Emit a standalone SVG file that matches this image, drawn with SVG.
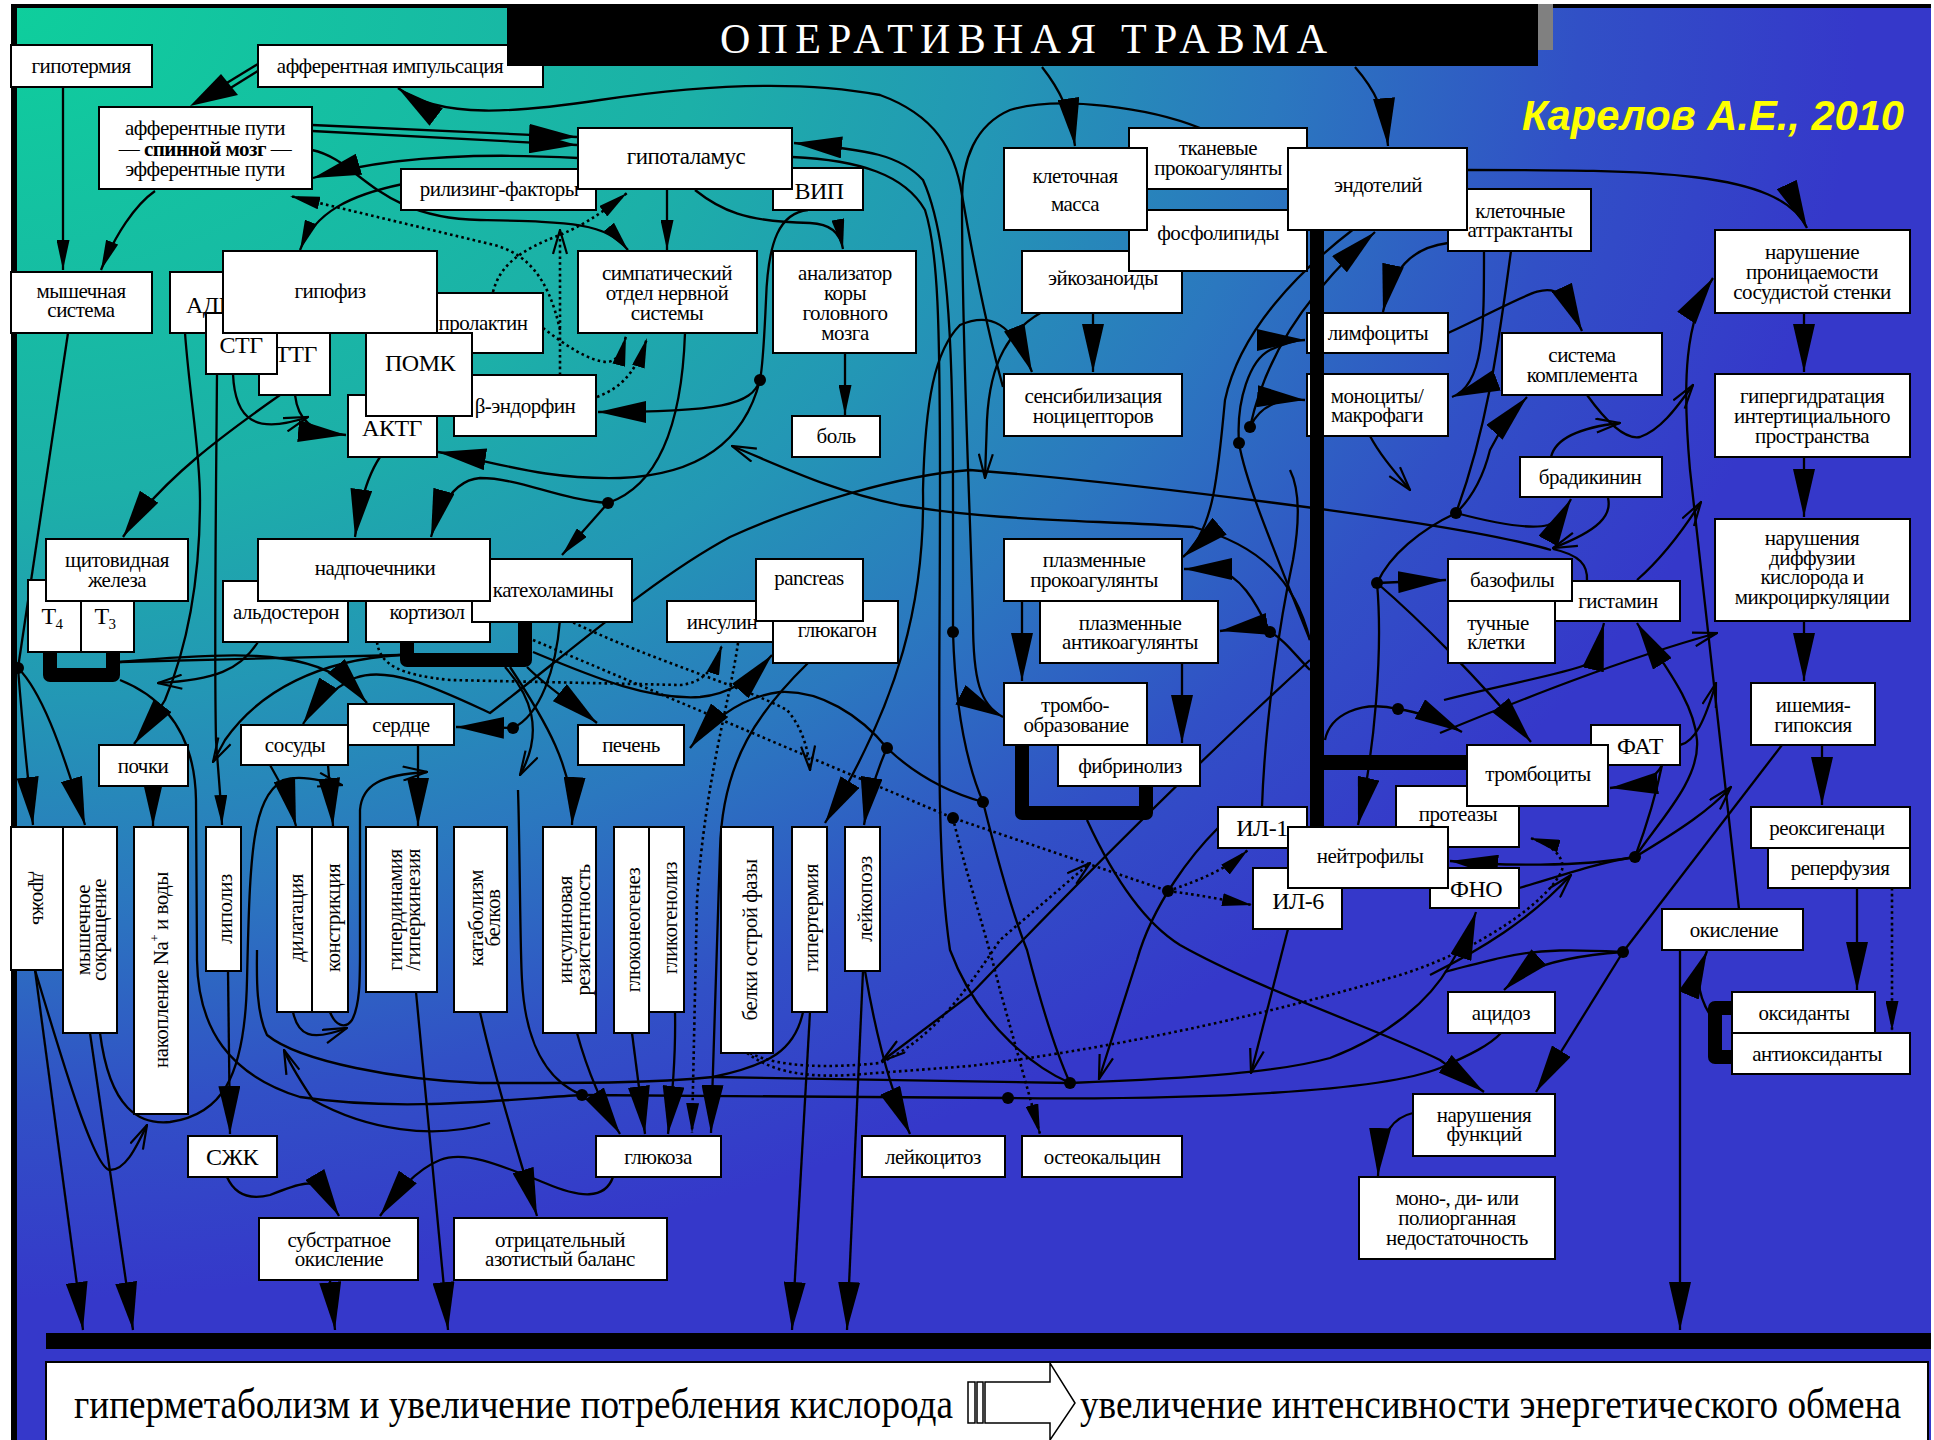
<svg xmlns="http://www.w3.org/2000/svg" width="1934" height="1440" viewBox="0 0 1934 1440">
<defs>
<radialGradient id="bg" gradientUnits="userSpaceOnUse" cx="0" cy="0" r="1300" gradientTransform="scale(1.43,1)">
<stop offset="0" stop-color="#0ECF9C"/>
<stop offset="0.38" stop-color="#1CB0A8"/>
<stop offset="0.54" stop-color="#2397B5"/>
<stop offset="0.69" stop-color="#2B78BF"/>
<stop offset="0.85" stop-color="#3150C6"/>
<stop offset="1" stop-color="#3538CA"/>
</radialGradient>
<marker id="a" viewBox="0 0 26 11" refX="26" refY="5.5" markerWidth="26" markerHeight="11" markerUnits="userSpaceOnUse" orient="auto"><path d="M0,0 L26,5.5 L0,11 z"/></marker>
<marker id="b" viewBox="0 0 30 13" refX="30" refY="6.5" markerWidth="30" markerHeight="13" markerUnits="userSpaceOnUse" orient="auto"><path d="M0,0 L30,6.5 L0,13 z"/></marker>
<marker id="B" viewBox="0 0 48 22" refX="48" refY="11" markerWidth="48" markerHeight="22" markerUnits="userSpaceOnUse" orient="auto"><path d="M0,0 L48,11 L0,22 z"/></marker>
<marker id="o" viewBox="0 0 26 16" refX="25" refY="8" markerWidth="26" markerHeight="16" markerUnits="userSpaceOnUse" orient="auto"><path d="M1,1 L25,8 L1,15" fill="none" stroke="#000" stroke-width="2.2"/></marker>
<style>
.c{fill:none;stroke:#000;stroke-width:2.3}
.d{fill:none;stroke:#000;stroke-width:2.6;stroke-dasharray:2.6 3.2}
.br{fill:none;stroke:#000;stroke-width:14;stroke-linejoin:round;stroke-linecap:butt}
.n rect{fill:#fff;stroke:#000;stroke-width:2}
.t{font-family:"Liberation Serif","Times New Roman",serif;font-size:21px;text-anchor:middle;letter-spacing:-0.5px;fill:#000}
.tb{font-family:"Liberation Serif","Times New Roman",serif;font-size:24px;text-anchor:middle;letter-spacing:-0.5px;fill:#000}
.dot{fill:#000}
</style>
</defs>

<rect x="0" y="0" width="1934" height="1440" fill="#fff"/>
<rect x="17" y="8" width="1914" height="1432" fill="url(#bg)"/>
<rect x="11" y="4" width="6" height="1436" fill="#000"/>
<rect x="11" y="4" width="1920" height="4" fill="#000"/>

<g id="connectors">
<path class="c" d="M63,87 V270" marker-end="url(#b)"/>
<path class="c" d="M258,64 L212,92"/>
<path class="c" d="M261,69 L216,97"/>
<polygon points="190,106 221,74 238,95" fill="#000"/>
<path class="c" d="M155,191 C135,205 115,235 101,270" marker-end="url(#b)"/>
<path class="c" d="M312,125 L577,137" marker-end="url(#B)"/>
<path class="c" d="M312,131 L577,145" marker-end="url(#B)"/>
<path class="c" d="M578,158 C470,152 380,158 313,178" marker-end="url(#B)"/>
<path class="c" d="M312,150 C360,160 375,218 480,220 C570,222 605,222 628,250" marker-end="url(#b)"/>
<path class="c" d="M403,184 C350,195 315,212 300,250" marker-end="url(#b)"/>
<path class="d" d="M560,330 C548,275 525,252 490,244 L290,196" marker-end="url(#b)"/>
<path class="d" d="M543,328 C565,345 590,362 608,362 C618,360 622,352 626,336" marker-end="url(#b)"/>
<path class="d" d="M560,375 V230" marker-end="url(#o)"/>
<path class="d" d="M493,292 C500,265 520,250 560,235 C590,222 605,210 627,193" marker-end="url(#b)"/>
<path class="d" d="M597,397 C615,390 635,378 647,338" marker-end="url(#b)"/>
<path class="c" d="M667,189 V250" marker-end="url(#b)"/>
<path class="c" d="M695,190 C720,210 745,222 810,223 C830,224 840,232 843,249" marker-end="url(#b)"/>
<path class="c" d="M845,353 V415" marker-end="url(#b)"/>
<path class="c" d="M808,210 C780,213 768,240 766,300 C764,345 763,365 760,380"/>
<path class="c" d="M760,380 C752,405 720,412 598,412" marker-end="url(#B)"/>
<path class="c" d="M760,380 C745,440 700,475 620,478 C540,480 490,460 438,452" marker-end="url(#B)"/>
<path class="c" d="M685,333 C682,420 660,485 608,503"/>
<path class="c" d="M608,503 L562,555" marker-end="url(#b)"/>
<path class="c" d="M608,503 C560,500 520,478 480,478 C455,480 440,505 431,537" marker-end="url(#B)"/>
<path class="c" d="M380,457 C368,475 360,500 355,537" marker-end="url(#B)"/>
<path class="c" d="M185,333 C190,400 200,450 200,500 C200,570 190,640 165,700 C152,722 140,736 134,744" marker-end="url(#B)"/>
<path class="c" d="M217,374 C216,500 214,650 216,740 C218,770 221,800 222,825" marker-end="url(#b)"/>
<path class="c" d="M233,374 C235,420 255,435 308,417" marker-end="url(#o)"/>
<path class="c" d="M295,395 C298,420 310,432 346,435" marker-end="url(#B)"/>
<path class="c" d="M280,395 C230,430 160,480 123,537" marker-end="url(#B)"/>
<path class="c" d="M68,333 L18,668"/>
<path class="c" d="M18,668 C22,720 28,780 33,825" marker-end="url(#B)"/>
<path class="c" d="M18,668 C40,690 60,740 85,825" marker-end="url(#B)"/>
<path class="c" d="M120,662 L400,655"/>
<path class="c" d="M120,662 C230,652 300,650 343,680 C355,690 362,697 367,703" marker-end="url(#B)"/>
<path class="c" d="M120,680 C170,700 195,740 196,800 L197,960 C198,1030 230,1075 300,1097 C400,1112 500,1100 582,1095 L1008,1098 C1200,1100 1380,1092 1440,1068 C1470,1055 1490,1045 1501,1033"/>
<path class="c" d="M400,655 C320,660 260,690 225,740 L213,762" marker-end="url(#o)"/>
<path class="c" d="M258,642 C240,670 215,680 158,683" marker-end="url(#o)"/>
<path class="c" d="M1551,550 C1450,520 1100,480 970,470 C900,475 800,505 730,537 C650,580 560,660 490,713 C440,690 390,665 355,678 C330,690 315,705 303,724" marker-end="url(#B)"/>
<path class="c" d="M418,745 V826" marker-end="url(#B)"/>
<path class="c" d="M270,765 C285,790 292,810 296,826" marker-end="url(#B)"/>
<path class="c" d="M328,765 L333,826" marker-end="url(#B)"/>
<path class="c" d="M153,786 V826" marker-end="url(#B)"/>
<path class="c" d="M100,1033 C110,1110 140,1125 170,1122 C220,1115 245,1080 247,980 C250,850 252,800 283,780 C300,775 320,780 342,785" marker-end="url(#o)"/>
<path class="c" d="M330,1012 C335,1025 345,1030 352,1020 C360,1005 360,980 360,950 L360,810 C362,785 380,775 427,772" marker-end="url(#o)"/>
<path class="c" d="M293,1012 C298,1035 310,1042 347,1028" marker-end="url(#o)"/>
<path class="c" d="M490,1123 C433,1140 367,1130 313,1100 C300,1080 290,1065 284,1050" marker-end="url(#o)"/>
<path class="c" d="M35,970 L83,1330" marker-end="url(#B)"/>
<path class="c" d="M90,1033 L133,1330" marker-end="url(#B)"/>
<path class="c" d="M35,970 C65,1070 95,1170 110,1170 C125,1170 135,1150 147,1125" marker-end="url(#o)"/>
<path class="c" d="M228,971 L230,1134" marker-end="url(#B)"/>
<path class="c" d="M227,1177 C235,1195 250,1200 270,1195 C300,1183 315,1178 325,1192 L339,1216" marker-end="url(#B)"/>
<path class="c" d="M613,1177 C605,1200 580,1198 545,1183 C500,1165 465,1150 440,1160 C415,1170 395,1195 380,1216" marker-end="url(#B)"/>
<path class="c" d="M330,1280 L335,1330" marker-end="url(#B)"/>
<path class="c" d="M416,992 L448,1330" marker-end="url(#B)"/>
<path class="c" d="M480,1012 C495,1080 520,1160 537,1216" marker-end="url(#B)"/>
<path class="c" d="M577,1033 C590,1080 605,1110 620,1134" marker-end="url(#B)"/>
<path class="c" d="M632,1033 L645,1134" marker-end="url(#B)"/>
<path class="c" d="M675,1012 C676,1060 672,1100 668,1134" marker-end="url(#B)"/>
<path class="d" d="M738,643 C730,700 705,780 697,900 L692,1133" marker-end="url(#b)"/>
<path class="c" d="M808,663 C760,710 722,760 720,850 L711,1133" marker-end="url(#B)"/>
<path class="c" d="M810,1012 L792,1330" marker-end="url(#B)"/>
<path class="c" d="M863,971 L847,1330" marker-end="url(#B)"/>
<path class="c" d="M865,971 C875,1030 890,1090 910,1134" marker-end="url(#B)"/>
<path class="c" d="M803,1012 C795,1050 770,1065 713,1077 C650,1083 600,1083 480,1083 C400,1080 300,1062 267,1035 C255,1010 257,970 257,950"/>
<path class="d" d="M747,1053 C770,1070 800,1078 850,1075 L970,1066 C1100,1050 1250,1020 1400,975 C1480,950 1550,900 1562,870 C1565,860 1555,845 1530,838" marker-end="url(#b)"/>
<path class="d" d="M750,1053 C780,1068 830,1068 880,1063 C930,1040 960,1000 1000,940 L1090,863" marker-end="url(#o)"/>
<path class="d" d="M533,640 L953,818 L1168,891"/>
<path class="d" d="M1168,891 C1200,880 1225,870 1248,850" marker-end="url(#b)"/>
<path class="d" d="M1168,891 C1200,895 1225,900 1252,905" marker-end="url(#b)"/>
<path class="d" d="M953,818 C965,870 985,930 1000,990 L1040,1134" marker-end="url(#b)"/>
<path class="d" d="M568,620 C650,660 740,685 787,710 C800,725 808,745 810,770" marker-end="url(#o)"/>
<path class="d" d="M377,642 C380,665 400,675 450,680 L680,685 C700,683 713,673 722,645" marker-end="url(#b)"/>
<path class="c" d="M533,652 C600,680 650,700 700,697 C730,694 750,680 772,655" marker-end="url(#B)"/>
<path class="c" d="M510,667 C545,720 575,770 572,825" marker-end="url(#B)"/>
<path class="c" d="M527,667 C550,690 575,705 597,723" marker-end="url(#B)"/>
<path class="c" d="M505,667 C530,695 545,730 520,775" marker-end="url(#o)"/>
<path class="c" d="M518,790 C520,850 520,950 522,980 C525,1040 545,1080 582,1095"/>
<path class="c" d="M560,620 C556,670 540,715 513,728"/>
<path class="c" d="M513,728 L456,727" marker-end="url(#B)"/>
<path class="c" d="M1310,640 C1295,580 1260,545 1193,527 C1100,520 1000,522 900,505 C830,490 790,470 732,446" marker-end="url(#o)"/>
<path class="c" d="M953,632 L953,490 C953,333 947,233 923,180 C900,155 870,150 794,143" marker-end="url(#B)"/>
<path class="c" d="M792,157 C860,160 905,175 925,210 C938,250 940,320 940,490 C940,700 935,850 950,950 C980,1030 1040,1070 1070,1083"/>
<path class="c" d="M983,802 C940,790 910,770 887,748 C860,715 820,690 780,692 C740,697 712,720 690,748" marker-end="url(#B)"/>
<path class="c" d="M887,748 C875,775 868,800 864,825" marker-end="url(#B)"/>
<path class="c" d="M953,632 C955,700 965,760 983,802"/>
<path class="c" d="M1200,128 C1150,108 1060,95 1010,110 C975,125 962,160 962,200 C962,350 970,500 973,620 C973,680 980,705 1003,717" marker-end="url(#B)"/>
<path class="c" d="M983,802 C1000,870 1015,920 1027,950 C1040,1000 1055,1050 1070,1083"/>
<path class="c" d="M713,1077 L1070,1083 C1200,1078 1280,1072 1330,1058 C1390,1035 1430,1000 1450,965 C1462,945 1470,930 1476,912" marker-end="url(#B)"/>
<path class="c" d="M1623,952 C1580,950 1540,948 1500,958 C1475,964 1458,968 1445,972"/>
<path class="c" d="M1218,828 C1193,853 1153,903 1137,960 L1099,1079" marker-end="url(#o)"/>
<path class="c" d="M1288,929 L1251,1073" marker-end="url(#o)"/>
<path class="c" d="M1087,820 C1110,870 1140,920 1180,945 C1260,990 1380,1030 1440,1060 L1484,1092" marker-end="url(#B)"/>
<path class="c" d="M1623,952 C1580,955 1545,962 1520,975 L1504,990" marker-end="url(#B)"/>
<path class="c" d="M1623,952 L1536,1092" marker-end="url(#B)"/>
<path class="c" d="M1782,745 L1623,952"/>
<path class="c" d="M1413,1113 C1395,1117 1380,1130 1378,1176" marker-end="url(#B)"/>
<path class="c" d="M1739,909 L1690,470 C1682,380 1685,320 1713,278" marker-end="url(#B)"/>
<path class="c" d="M1680,950 L1680,1330" marker-end="url(#B)"/>
<path class="c" d="M1710,1015 C1695,990 1697,975 1707,951" marker-end="url(#B)"/>
<path class="c" d="M1857,888 V990" marker-end="url(#B)"/>
<path class="d" d="M1892,888 V1031" marker-end="url(#b)"/>
<path class="c" d="M1804,313 V372" marker-end="url(#B)"/>
<path class="c" d="M1804,457 V517" marker-end="url(#B)"/>
<path class="c" d="M1804,621 V681" marker-end="url(#B)"/>
<path class="c" d="M1822,745 V805" marker-end="url(#B)"/>
<path class="c" d="M1467,170 C1650,170 1780,170 1807,228" marker-end="url(#B)"/>
<path class="c" d="M1042,67 C1060,90 1070,110 1075,146" marker-end="url(#B)"/>
<path class="c" d="M1355,67 C1375,90 1385,110 1388,146" marker-end="url(#B)"/>
<path class="c" d="M1093,312 V372" marker-end="url(#B)"/>
<path class="c" d="M1042,312 C1010,330 990,360 987,420 L985,478" marker-end="url(#o)"/>
<path class="c" d="M923,490 C925,600 900,700 825,823" marker-end="url(#B)"/>
<path class="c" d="M923,490 C925,400 935,350 960,325 C990,312 1012,322 1032,372" marker-end="url(#B)"/>
<path class="c" d="M1003,387 C990,340 975,270 962,195 C955,150 935,115 880,95 C800,80 700,85 600,100 C520,112 440,120 398,88" marker-end="url(#B)"/>
<path class="c" d="M1448,243 C1410,248 1392,270 1383,312" marker-end="url(#B)"/>
<path class="c" d="M1484,251 C1484,330 1484,385 1452,397" marker-end="url(#B)"/>
<path class="c" d="M1511,251 C1500,330 1490,420 1456,513"/>
<path class="c" d="M1456,513 C1490,522 1530,530 1548,525 C1560,520 1565,510 1571,499" marker-end="url(#B)"/>
<path class="c" d="M1456,513 C1475,495 1485,470 1490,450 C1500,430 1515,410 1527,397" marker-end="url(#B)"/>
<path class="c" d="M1456,513 C1420,530 1390,555 1377,583"/>
<path class="c" d="M1448,333 C1520,300 1545,280 1560,295 C1570,305 1576,318 1582,331" marker-end="url(#B)"/>
<path class="c" d="M1370,436 C1380,455 1395,472 1410,490" marker-end="url(#o)"/>
<path class="c" d="M1250,427 C1265,360 1300,300 1375,232" marker-end="url(#B)"/>
<path class="c" d="M1250,427 C1260,405 1280,398 1305,400" marker-end="url(#B)"/>
<path class="c" d="M1239,443 C1236,400 1250,360 1270,350 C1285,343 1295,340 1305,340" marker-end="url(#B)"/>
<path class="c" d="M1239,443 C1245,480 1270,540 1310,640"/>
<path class="c" d="M1355,228 C1300,270 1240,330 1225,400 C1218,470 1215,530 1183,557" marker-end="url(#B)"/>
<path class="c" d="M1587,395 C1605,420 1625,440 1640,437 C1660,430 1675,410 1693,385" marker-end="url(#o)"/>
<path class="c" d="M1551,457 C1555,440 1575,428 1620,423" marker-end="url(#o)"/>
<path class="c" d="M1608,498 C1612,515 1600,530 1553,548" marker-end="url(#o)"/>
<path class="c" d="M1587,581 C1588,565 1580,555 1553,549"/>
<path class="c" d="M1637,580 C1660,560 1680,535 1701,502" marker-end="url(#o)"/>
<path class="c" d="M1444,700 C1500,685 1560,675 1585,665 C1595,655 1600,640 1604,623" marker-end="url(#B)"/>
<path class="c" d="M1635,857 C1660,820 1700,780 1697,740 C1694,700 1660,660 1637,623" marker-end="url(#B)"/>
<path class="c" d="M1635,857 C1580,867 1500,866 1450,861" marker-end="url(#B)"/>
<path class="c" d="M1635,857 C1680,830 1710,810 1731,787" marker-end="url(#o)"/>
<path class="c" d="M1662,765 C1655,800 1645,830 1635,857"/>
<path class="c" d="M1662,765 C1655,780 1640,785 1610,788" marker-end="url(#B)"/>
<path class="c" d="M1680,745 C1695,742 1705,720 1716,683" marker-end="url(#o)"/>
<path class="c" d="M1440,733 C1520,700 1620,660 1717,633" marker-end="url(#o)"/>
<path class="c" d="M1377,583 L1446,580" marker-end="url(#B)"/>
<path class="c" d="M1377,583 C1383,650 1375,750 1358,825" marker-end="url(#B)"/>
<path class="c" d="M1377,583 C1420,620 1480,680 1531,742" marker-end="url(#B)"/>
<path class="c" d="M1325,740 C1330,715 1360,700 1398,709 C1420,712 1440,720 1462,732" marker-end="url(#B)"/>
<path class="c" d="M1519,888 C1560,876 1600,862 1635,857"/>
<path class="c" d="M1430,975 C1480,950 1530,920 1571,875" marker-end="url(#o)"/>
<path class="c" d="M1262,807 C1265,720 1280,620 1293,560 C1300,520 1300,490 1290,470"/>
<path class="c" d="M1310,660 C1200,760 1080,880 970,995 L882,1061" marker-end="url(#o)"/>
<path class="c" d="M1270,632 C1250,628 1240,628 1220,631" marker-end="url(#B)"/>
<path class="c" d="M1270,632 C1255,600 1240,575 1215,569 L1184,569" marker-end="url(#B)"/>
<path class="c" d="M1310,670 C1295,655 1285,640 1270,632"/>
<path class="c" d="M1022,601 V681" marker-end="url(#B)"/>
<path class="c" d="M1182,663 V743" marker-end="url(#B)"/>
<path class="br" d="M50,652 V675 H113 V652"/>
<path class="br" d="M407,642 V660 H525 V622"/>
<path class="br" d="M1022,745 V813 H1146 V786"/>
<path class="br" d="M1732,1008 H1715 V1057 H1732"/>
<g class="dot">
<circle cx="760" cy="380" r="6"/><circle cx="608" cy="503" r="6"/><circle cx="18" cy="668" r="6"/>
<circle cx="582" cy="1095" r="6"/><circle cx="1008" cy="1098" r="6"/><circle cx="513" cy="728" r="6"/>
<circle cx="953" cy="632" r="6"/><circle cx="953" cy="818" r="6"/><circle cx="1168" cy="891" r="6"/>
<circle cx="983" cy="802" r="6"/><circle cx="1070" cy="1083" r="6"/><circle cx="1623" cy="952" r="6"/>
<circle cx="1456" cy="513" r="6"/><circle cx="1377" cy="583" r="6"/><circle cx="1398" cy="709" r="6"/>
<circle cx="1635" cy="857" r="6"/><circle cx="1250" cy="427" r="6"/><circle cx="1239" cy="443" r="6"/>
<circle cx="1270" cy="632" r="6"/><circle cx="887" cy="748" r="6"/>
</g>
</g>

<g id="nodes">
<g id="n-gipotermiya" class="n"><rect x="11" y="45" width="141" height="42"/><text class="t" x="81" y="73">гипотермия</text></g>
<g id="n-afferent-imp" class="n"><rect x="258" y="45" width="285" height="42"/><text class="t" x="390" y="73">афферентная импульсация</text></g>
<g id="n-afferent-paths" class="n"><rect x="99" y="107" width="213" height="82"/><text class="t" x="205" y="135">афферентные пути</text><text class="t" x="205" y="156">— <tspan font-weight="bold">спинной мозг</tspan> —</text><text class="t" x="205" y="176">эфферентные пути</text></g>
<g id="n-rilizing" class="n"><rect x="401" y="169" width="195" height="41"/><text class="t" x="499" y="196">рилизинг-факторы</text></g>
<g id="n-vip" class="n"><rect x="773" y="168" width="90" height="42"/><text class="tb" x="819" y="199">ВИП</text></g>
<g id="n-gipotalamus" class="n"><rect x="578" y="128" width="214" height="61"/><text class="t" x="686" y="164" style="font-size:23px">гипоталамус</text></g>
<g id="n-myshechnaya" class="n"><rect x="11" y="272" width="141" height="61"/><text class="t" x="81" y="298">мышечная</text><text class="t" x="81" y="317">система</text></g>
<g id="n-adg" class="n"><rect x="170" y="272" width="60" height="61"/><text class="tb" x="186" y="313" style="text-anchor:start">АДГ</text></g>
<g id="n-ttg" class="n"><rect x="259" y="333" width="71" height="62"/><text class="tb" x="296" y="362">ТТГ</text></g>
<g id="n-stg" class="n"><rect x="206" y="313" width="71" height="61"/><text class="tb" x="241" y="353">СТГ</text></g>
<g id="n-aktg" class="n"><rect x="348" y="395" width="89" height="62"/><text class="tb" x="392" y="436">АКТГ</text></g>
<g id="n-bendorfin" class="n"><rect x="454" y="375" width="142" height="61"/><text class="t" x="525" y="413">β-эндорфин</text></g>
<g id="n-prolaktin" class="n"><rect x="418" y="293" width="125" height="60"/><text class="t" x="483" y="330">пролактин</text></g>
<g id="n-pomk" class="n"><rect x="366" y="333" width="106" height="83"/><text class="tb" x="420" y="371">ПОМК</text></g>
<g id="n-gipofiz" class="n"><rect x="223" y="251" width="214" height="82"/><text class="t" x="330" y="298">гипофиз</text></g>
<g id="n-simpat" class="n"><rect x="578" y="251" width="179" height="82"/><text class="t" x="667" y="280">симпатический</text><text class="t" x="667" y="300">отдел  нервной</text><text class="t" x="667" y="320">системы</text></g>
<g id="n-analizator" class="n"><rect x="773" y="251" width="143" height="102"/><text class="t" x="845" y="280">анализатор</text><text class="t" x="845" y="300">коры</text><text class="t" x="845" y="320">головного</text><text class="t" x="845" y="340">мозга</text></g>
<g id="n-bol" class="n"><rect x="792" y="416" width="88" height="41"/><text class="t" x="836" y="443">боль</text></g>
<g id="n-eikozanoidy" class="n"><rect x="1022" y="251" width="160" height="62"/><text class="t" x="1103" y="285">эйкозаноиды</text></g>
<g id="n-fosfolipidy" class="n"><rect x="1129" y="210" width="178" height="61"/><text class="t" x="1218" y="240">фосфолипиды</text></g>
<g id="n-tkanevye" class="n"><rect x="1129" y="128" width="178" height="61"/><text class="t" x="1218" y="155">тканевые</text><text class="t" x="1218" y="175">прокоагулянты</text></g>
<g id="n-kletmassa" class="n"><rect x="1004" y="148" width="143" height="82"/><text class="t" x="1075" y="183">клеточная</text><text class="t" x="1075" y="211">масса</text></g>
<g id="n-attraktanty" class="n"><rect x="1448" y="189" width="143" height="62"/><text class="t" x="1520" y="218">клеточные</text><text class="t" x="1520" y="237">аттрактанты</text></g>
<g id="n-endoteliy" class="n"><rect x="1288" y="148" width="179" height="82"/><text class="t" x="1378" y="192">эндотелий</text></g>
<g id="n-senzibil" class="n"><rect x="1004" y="374" width="178" height="62"/><text class="t" x="1093" y="403">сенсибилизация</text><text class="t" x="1093" y="423">ноцицепторов</text></g>
<g id="n-limfotsity" class="n"><rect x="1307" y="313" width="141" height="40"/><text class="t" x="1378" y="340">лимфоциты</text></g>
<g id="n-monotsity" class="n"><rect x="1307" y="374" width="141" height="62"/><text class="t" x="1377" y="403">моноциты/</text><text class="t" x="1377" y="422">макрофаги</text></g>
<g id="endothelium-bar"><rect x="1310" y="230" width="14" height="597" fill="#000"/><rect x="1324" y="755" width="143" height="15" fill="#000"/></g>
<g id="n-narush-pron" class="n"><rect x="1715" y="230" width="195" height="83"/><text class="t" x="1812" y="259">нарушение</text><text class="t" x="1812" y="279">проницаемости</text><text class="t" x="1812" y="299">сосудистой стенки</text></g>
<g id="n-sist-kompl" class="n"><rect x="1502" y="333" width="160" height="62"/><text class="t" x="1582" y="362">система</text><text class="t" x="1582" y="382">комплемента</text></g>
<g id="n-gipergidr" class="n"><rect x="1715" y="374" width="195" height="83"/><text class="t" x="1812" y="403">гипергидратация</text><text class="t" x="1812" y="423">интертициального</text><text class="t" x="1812" y="443">пространства</text></g>
<g id="n-bradikinin" class="n"><rect x="1520" y="457" width="142" height="40"/><text class="t" x="1590" y="484">брадикинин</text></g>
<g id="n-narush-diff" class="n"><rect x="1715" y="519" width="195" height="102"/><text class="t" x="1812" y="545">нарушения</text><text class="t" x="1812" y="565">диффузии</text><text class="t" x="1812" y="584">кислорода и</text><text class="t" x="1812" y="604">микроциркуляции</text></g>
<g id="n-gistamin" class="n"><rect x="1555" y="581" width="125" height="40"/><text class="t" x="1618" y="608">гистамин</text></g>
<g id="n-bazofily" class="n"><rect x="1448" y="559" width="124" height="42"/><text class="t" x="1512" y="587">базофилы</text></g>
<g id="n-tuchnye" class="n"><rect x="1448" y="601" width="107" height="62"/><text class="t" x="1498" y="630">тучные</text><text class="t" x="1496" y="649">клетки</text></g>
<g id="n-ishemiya" class="n"><rect x="1751" y="683" width="124" height="62"/><text class="t" x="1813" y="712">ишемия-</text><text class="t" x="1813" y="732">гипоксия</text></g>
<g id="n-proteazy" class="n"><rect x="1396" y="786" width="123" height="61"/><text class="t" x="1458" y="821">протеазы</text></g>
<g id="n-fat" class="n"><rect x="1591" y="725" width="89" height="40"/><text class="tb" x="1640" y="754">ФАТ</text></g>
<g id="n-trombotsity" class="n"><rect x="1467" y="745" width="141" height="61"/><text class="t" x="1538" y="781">тромбоциты</text></g>
<g id="n-reoksigen" class="n"><rect x="1751" y="807" width="159" height="41"/><text class="t" x="1827" y="835">реоксигенаци</text></g>
<g id="n-reperfuz" class="n"><rect x="1768" y="848" width="142" height="40"/><text class="t" x="1840" y="875">реперфузия</text></g>
<g id="n-fno" class="n"><rect x="1430" y="868" width="89" height="40"/><text class="tb" x="1476" y="897">ФНО</text></g>
<g id="n-il6" class="n"><rect x="1253" y="868" width="89" height="61"/><text class="tb" x="1298" y="909">ИЛ-6</text></g>
<g id="n-il1" class="n"><rect x="1218" y="807" width="89" height="41"/><text class="tb" x="1262" y="836">ИЛ-1</text></g>
<g id="n-neitrofily" class="n"><rect x="1288" y="827" width="160" height="61"/><text class="t" x="1370" y="863">нейтрофилы</text></g>
<g id="n-okislenie" class="n"><rect x="1662" y="909" width="141" height="41"/><text class="t" x="1734" y="937">окисление</text></g>
<g id="n-atsidoz" class="n"><rect x="1448" y="992" width="107" height="41"/><text class="t" x="1501" y="1020">ацидоз</text></g>
<g id="n-narush-funk" class="n"><rect x="1413" y="1094" width="142" height="62"/><text class="t" x="1484" y="1122">нарушения</text><text class="t" x="1484" y="1141">функций</text></g>
<g id="n-mono-di" class="n"><rect x="1359" y="1177" width="196" height="82"/><text class="t" x="1457" y="1205">моно-, ди- или</text><text class="t" x="1457" y="1225">полиорганная</text><text class="t" x="1457" y="1245">недостаточность</text></g>
<g id="n-oksidanty" class="n"><rect x="1732" y="992" width="143" height="41"/><text class="t" x="1804" y="1020">оксиданты</text></g>
<g id="n-antioksidanty" class="n"><rect x="1732" y="1033" width="178" height="41"/><text class="t" x="1817" y="1061">антиоксиданты</text></g>
<g id="n-plazm-prokoag" class="n"><rect x="1004" y="539" width="178" height="62"/><text class="t" x="1094" y="567">плазменные</text><text class="t" x="1094" y="587">прокоагулянты</text></g>
<g id="n-plazm-antikoag" class="n"><rect x="1040" y="601" width="178" height="62"/><text class="t" x="1130" y="630">плазменные</text><text class="t" x="1130" y="649">антикоагулянты</text></g>
<g id="n-tromboobraz" class="n"><rect x="1004" y="683" width="143" height="62"/><text class="t" x="1075" y="712">тромбо-</text><text class="t" x="1076" y="732">образование</text></g>
<g id="n-fibrinoliz" class="n"><rect x="1058" y="745" width="142" height="41"/><text class="t" x="1130" y="773">фибринолиз</text></g>
<g id="n-t4" class="n"><rect x="28" y="580" width="53" height="72"/><text class="tb" x="52" y="624">T<tspan font-size="15" dy="5">4</tspan></text></g>
<g id="n-t3" class="n"><rect x="81" y="580" width="53" height="72"/><text class="tb" x="105" y="624">T<tspan font-size="15" dy="5">3</tspan></text></g>
<g id="n-shchitov" class="n"><rect x="46" y="539" width="142" height="62"/><text class="t" x="117" y="567">щитовидная</text><text class="t" x="117" y="587">железа</text></g>
<g id="n-aldosteron" class="n"><rect x="223" y="581" width="125" height="61"/><text class="t" x="286" y="619">альдостерон</text></g>
<g id="n-kortizol" class="n"><rect x="366" y="581" width="124" height="61"/><text class="t" x="427" y="619">кортизол</text></g>
<g id="n-katecholaminy" class="n"><rect x="472" y="559" width="160" height="63"/><text class="t" x="553" y="597">катехоламины</text></g>
<g id="n-nadpoch" class="n"><rect x="258" y="539" width="232" height="62"/><text class="t" x="375" y="575">надпочечники</text></g>
<g id="n-pochki" class="n"><rect x="99" y="745" width="89" height="41"/><text class="t" x="143" y="773">почки</text></g>
<g id="n-sosudy" class="n"><rect x="241" y="725" width="107" height="40"/><text class="t" x="295" y="752">сосуды</text></g>
<g id="n-serdtse" class="n"><rect x="348" y="704" width="106" height="41"/><text class="t" x="401" y="732">сердце</text></g>
<g id="n-pechen" class="n"><rect x="578" y="725" width="106" height="40"/><text class="t" x="631" y="752">печень</text></g>
<g id="n-insulin" class="n"><rect x="667" y="601" width="106" height="41"/><text class="t" x="722" y="629">инсулин</text></g>
<g id="n-glukagon" class="n"><rect x="773" y="601" width="125" height="62"/><text class="t" x="837" y="637">глюкагон</text></g>
<g id="n-pancreas" class="n"><rect x="756" y="559" width="107" height="62"/><text class="t" x="809" y="585">pancreas</text></g>
<g id="n-drozh" class="n"><rect x="11" y="827" width="52" height="143"/><text class="t" transform="translate(33,898) rotate(90)">дрожь</text></g>
<g id="n-myshech-sokr" class="n"><rect x="63" y="827" width="54" height="206"/><text class="t" transform="translate(90,930) rotate(-90)">мышечное</text><text class="t" transform="translate(106,930) rotate(-90)">сокращение</text></g>
<g id="n-nakoplenie" class="n"><rect x="134" y="827" width="54" height="287"/><text class="t" transform="translate(168,970) rotate(-90)">накопление Na<tspan font-size="13" dy="-9">+</tspan><tspan dy="9"> и воды</tspan></text></g>
<g id="n-lipoliz" class="n"><rect x="206" y="827" width="35" height="144"/><text class="t" transform="translate(232,909) rotate(-90)">липолиз</text></g>
<g id="n-dilatatsiya" class="n"><rect x="277" y="827" width="35" height="185"/><text class="t" transform="translate(303,918) rotate(-90)">дилатация</text></g>
<g id="n-konstriktsiya" class="n"><rect x="312" y="827" width="36" height="185"/><text class="t" transform="translate(340,918) rotate(-90)">констрикция</text></g>
<g id="n-giperdinamiya" class="n"><rect x="366" y="827" width="71" height="165"/><text class="t" transform="translate(402,910) rotate(-90)">гипердинамия</text><text class="t" transform="translate(420,910) rotate(-90)">/гиперкинезия</text></g>
<g id="n-katabolizm" class="n"><rect x="454" y="827" width="53" height="185"/><text class="t" transform="translate(483,918) rotate(-90)">катаболизм</text><text class="t" transform="translate(500,918) rotate(-90)">белков</text></g>
<g id="n-insulin-rez" class="n"><rect x="543" y="827" width="53" height="206"/><text class="t" transform="translate(572,930) rotate(-90)">инсулиновая</text><text class="t" transform="translate(590,930) rotate(-90)">резистентность</text></g>
<g id="n-glukoneogenez" class="n"><rect x="614" y="827" width="35" height="206"/><text class="t" transform="translate(640,930) rotate(-90)">глюконеогенез</text></g>
<g id="n-glikogenoliz" class="n"><rect x="649" y="827" width="35" height="185"/><text class="t" transform="translate(677,918) rotate(-90)">гликогенолиз</text></g>
<g id="n-belki" class="n"><rect x="721" y="827" width="52" height="226"/><text class="t" transform="translate(757,940) rotate(-90)">белки острой фазы</text></g>
<g id="n-gipertermiya" class="n"><rect x="792" y="827" width="35" height="185"/><text class="t" transform="translate(818,918) rotate(-90)">гипертермия</text></g>
<g id="n-leikopoez" class="n"><rect x="845" y="827" width="35" height="144"/><text class="t" transform="translate(872,899) rotate(-90)">лейкопоэз</text></g>
<g id="n-szhk" class="n"><rect x="188" y="1136" width="89" height="41"/><text class="tb" x="232" y="1165">СЖК</text></g>
<g id="n-substrat" class="n"><rect x="259" y="1218" width="159" height="62"/><text class="t" x="339" y="1247">субстратное</text><text class="t" x="339" y="1266">окисление</text></g>
<g id="n-azot" class="n"><rect x="454" y="1218" width="213" height="62"/><text class="t" x="560" y="1247">отрицательный</text><text class="t" x="560" y="1266">азотистый баланс</text></g>
<g id="n-glukoza" class="n"><rect x="596" y="1136" width="125" height="41"/><text class="t" x="658" y="1164">глюкоза</text></g>
<g id="n-leikotsitoz" class="n"><rect x="862" y="1136" width="143" height="41"/><text class="t" x="933" y="1164">лейкоцитоз</text></g>
<g id="n-osteokaltsin" class="n"><rect x="1022" y="1136" width="160" height="41"/><text class="t" x="1102" y="1164">остеокальцин</text></g>
</g>

<g id="title">
<rect x="507" y="4" width="1031" height="62" fill="#000"/>
<rect x="1538" y="4" width="15" height="46" fill="#808080"/>
<text x="720" y="53" font-family="Liberation Serif, serif" font-size="42" fill="#fff" textLength="607" lengthAdjust="spacing">ОПЕРАТИВНАЯ ТРАВМА</text>
<text x="1522" y="130" font-family="Liberation Sans, Arial, sans-serif" font-size="42" font-style="italic" font-weight="bold" fill="#FFFF00" textLength="382" lengthAdjust="spacingAndGlyphs">Карелов А.Е., 2010</text>
</g>

<g id="bottom">
<rect x="46" y="1333" width="1885" height="16" fill="#000"/>
<rect x="46" y="1362" width="1882" height="80" fill="#fff" stroke="#000" stroke-width="2"/>
<text x="74" y="1418" font-family="Liberation Serif, serif" font-size="42" fill="#000" textLength="879" lengthAdjust="spacingAndGlyphs">гиперметаболизм и увеличение потребления кислорода</text>
<rect x="968" y="1382" width="7" height="41" fill="#fff" stroke="#000" stroke-width="1.5"/>
<rect x="977" y="1382" width="6" height="41" fill="#fff" stroke="#000" stroke-width="1.5"/>
<polygon points="985,1382 1050,1382 1050,1363 1075,1403 1050,1440 1050,1423 985,1423" fill="#fff" stroke="#000" stroke-width="1.5"/>
<text x="1080" y="1418" font-family="Liberation Serif, serif" font-size="42" fill="#000" textLength="821" lengthAdjust="spacingAndGlyphs">увеличение интенсивности энергетического обмена</text>
</g>
</svg>
